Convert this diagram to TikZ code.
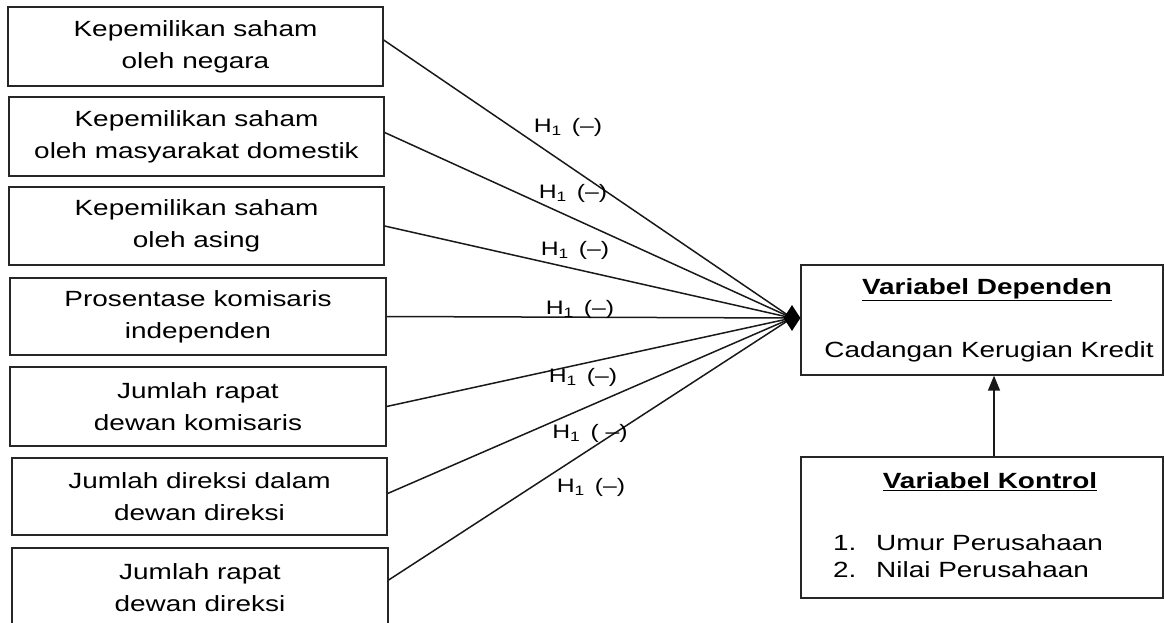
\documentclass[tikz,border=0pt]{standalone}
\usepackage{fontspec}
\setmainfont[FakeStretch=1.27]{Liberation Sans}
\usetikzlibrary{shapes.geometric,arrows.meta}
\begin{document}
\begin{tikzpicture}[x=1pt,y=-1pt,
  box/.style={draw=black!85,line width=1.3pt,minimum width=375pt,inner sep=0pt,
    align=center,font=\fontsize{22}{32}\selectfont},
  rbox/.style={draw=black!85,line width=1.3pt,minimum width=362pt,inner sep=0pt},
  conn/.style={draw=black!90,line width=1.5pt},
  hyp/.style={font=\fontsize{19.5}{22}\selectfont,inner sep=0pt},
  txt/.style={font=\fontsize{22}{27}\selectfont,inner sep=0pt}]
\useasboundingbox (0,0) rectangle (1165,623);
\clip (0,0) rectangle (1165,623);
% left boxes
\node[box,minimum height=79pt] (b1) at (195.5,46.5) {Kepemilikan saham\\oleh negara};
\node[box,minimum height=79pt] (b2) at (196.5,136.5) {Kepemilikan saham\\oleh masyarakat domestik};
\node[box,minimum height=78pt] (b3) at (196.5,226) {Kepemilikan saham\\oleh asing};
\node[box,minimum width=376pt,minimum height=77pt] (b4) at (198,316.5) {Prosentase komisaris\\independen};
\node[box,minimum width=376pt,minimum height=79pt] (b5) at (198,406.5) {Jumlah rapat\\dewan komisaris};
\node[box,minimum height=77pt] (b6) at (199.5,496.5) {Jumlah direksi dalam\\dewan direksi};
\node[box,minimum width=376pt,minimum height=80pt] (b7) at (200,588) {Jumlah rapat\\dewan direksi};
% right boxes
\node[rbox,minimum height=110pt] (dep) at (982,320) {};
\node[rbox,minimum height=141pt] (ctl) at (982,527.5) {};
\node[txt] (depT) at (987,290) {\textbf{\underline{Variabel Dependen}}};
\node[txt] (depV) at (989,352) {Cadangan Kerugian Kredit};
\node[txt] (ctlT) at (990,482) {\textbf{\underline{Variabel Kontrol}}};
\node[txt,anchor=west] (n1) at (833,543) {1.};
\node[txt,anchor=west] (c1) at (876,543) {Umur Perusahaan};
\node[txt,anchor=west] (n2) at (833,570) {2.};
\node[txt,anchor=west] (c2) at (876,570) {Nilai Perusahaan};
% convergence point
\coordinate (hub) at (792,318);
\draw[conn] ([yshift=6.5pt]b1.east) -- (hub);
\draw[conn] ([yshift=4pt]b2.east) -- (hub);
\draw[conn] (b3.east) -- (hub);
\draw[conn] (b4.east) -- (hub);
\draw[conn] (b5.east) -- (hub);
\draw[conn] ([yshift=3pt]b6.east) -- (hub);
\draw[conn] ([yshift=8pt]b7.east) -- (hub);
\node[diamond,fill=black,draw=none,minimum width=17pt,minimum height=26pt,inner sep=0pt] (dia) at (hub) {};
% control arrow
\draw[conn,-{Triangle[length=15pt,width=12pt]}] (ctl.north -| 994,0) -- (dep.south -| 994,0);
% hypothesis labels
\node[hyp] (h1) at (568,127) {H\textsubscript{1}\, (--)};
\node[hyp] (h2) at (573,193) {H\textsubscript{1}\, (--)};
\node[hyp] (h3) at (575,250) {H\textsubscript{1}\, (--)};
\node[hyp] (h4) at (580,309) {H\textsubscript{1}\, (--)};
\node[hyp] (h5) at (583,377) {H\textsubscript{1}\, (--)};
\node[hyp] (h6) at (590,433) {H\textsubscript{1}\, ( --)};
\node[hyp] (h7) at (591,487) {H\textsubscript{1}\, (--)};
\end{tikzpicture}
\end{document}
